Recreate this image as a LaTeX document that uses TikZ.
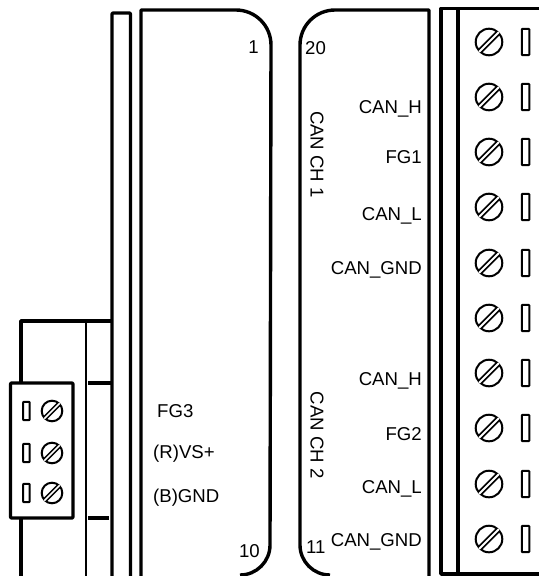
\documentclass[tikz,border=0pt]{standalone}
\usepackage{fontspec}
\setmainfont{Liberation Sans}
\newcommand{\bigscrew}[2]{%
  \draw[ln2] (#1,#2) circle[radius=13.3pt];
  \draw[line width=5.6pt,line cap=butt] (#1-9.4,#2+9.4) -- (#1+9.4,#2-9.4);
  \draw[white,line width=1.9pt,line cap=butt] (#1-9.9,#2+9.9) -- (#1+9.9,#2-9.9);
  \draw[ln2,rounded corners=0.8pt] (#1+32.8,#2-13.2) rectangle (#1+40.4,#2+13.2);
}
\newcommand{\smallscrew}[2]{%
  \draw[ln2] (#1,#2) circle[radius=10.3pt];
  \draw[line width=4.8pt,line cap=butt] (#1-7.2,#2+7.2) -- (#1+7.2,#2-7.2);
  \draw[white,line width=1.6pt,line cap=butt] (#1-7.7,#2+7.7) -- (#1+7.7,#2-7.7);
  \draw[ln2,rounded corners=0.6pt] (#1-28.8,#2-9.2) rectangle (#1-22.4,#2+9.2);
}
\tikzset{
  x=1pt,y=-1pt,
  ln3/.style={line width=3.4pt,line join=round},
  ln2/.style={line width=2pt,line join=round},
  lab/.style={inner sep=0pt,font=\fontsize{18.6}{21}\selectfont,text=black},
  rlab/.style={lab,anchor=base east},
  llab/.style={lab,anchor=base west},
  vlab/.style={lab,rotate=-90,anchor=center}
}
\begin{document}
\begin{tikzpicture}
\useasboundingbox[fill=white] (0,0) rectangle (539,576);
% left strip and panel
\draw[ln3,rounded corners=1pt] (112,576) -- (112,13) -- (130.5,13) -- (130.5,576);
\draw[ln3] (141,576) -- (141,10) -- (236,10) arc[start angle=90,end angle=0,radius=35pt] -- (270,545)
  arc[start angle=0,end angle=-90,radius=30pt];
% right panel
\draw[ln3] (330,575) arc[start angle=270,end angle=180,radius=30pt] -- (300,45)
  arc[start angle=180,end angle=90,radius=35pt] -- (429,10) -- (429,576);
% right terminal
\draw[ln3] (539,8.5) -- (441,8.5) -- (441,574) -- (539,574);
\draw[ln3] (458,8.5) -- (458,574);
% left terminal
\draw[ln3] (21,383) -- (21,321) -- (112,321);
\draw[ln3] (21,518) -- (21,576);
\draw[line width=2.8pt] (86,321) -- (86,576);
\draw[ln3] (88,383) -- (112,383);
\draw[ln3] (88,518) -- (109,518);
\draw[ln3,rounded corners=1pt] (10.5,383) rectangle (73,518);
\smallscrew{52}{411}
\smallscrew{52}{453}
\smallscrew{52}{493}
\bigscrew{489}{42}
\bigscrew{489}{97}
\bigscrew{489}{152}
\bigscrew{489}{207}
\bigscrew{489}{263}
\bigscrew{489}{318}
\bigscrew{489}{373}
\bigscrew{489}{428}
\bigscrew{489}{484}
\bigscrew{489}{539}
% labels
\node[rlab] (n1) at (259,53) {1};
\node[rlab] (n10) at (260,557) {10};
\node[llab] (fg3) at (157,417) {FG3};
\node[llab] (vs) at (153,458) {(R)VS+};
\node[llab] (gnd) at (153,502) {(B)GND};
\node[llab] (n20) at (305,54) {20};
\node[llab] (n11) at (306,553) {11};
\node[vlab] (ch1) at (317,154.5) {CAN CH 1};
\node[vlab] (ch2) at (317,435) {CAN CH 2};
\node[rlab] (h1) at (422,113) {CAN\_H};
\node[rlab] (fg1) at (422,163) {FG1};
\node[rlab] (l1) at (422,220) {CAN\_L};
\node[rlab] (g1) at (422,274) {CAN\_GND};
\node[rlab] (h2) at (422,385) {CAN\_H};
\node[rlab] (fg2) at (422,440) {FG2};
\node[rlab] (l2) at (422,493) {CAN\_L};
\node[rlab] (g2) at (422,546) {CAN\_GND};
\end{tikzpicture}
\end{document}
